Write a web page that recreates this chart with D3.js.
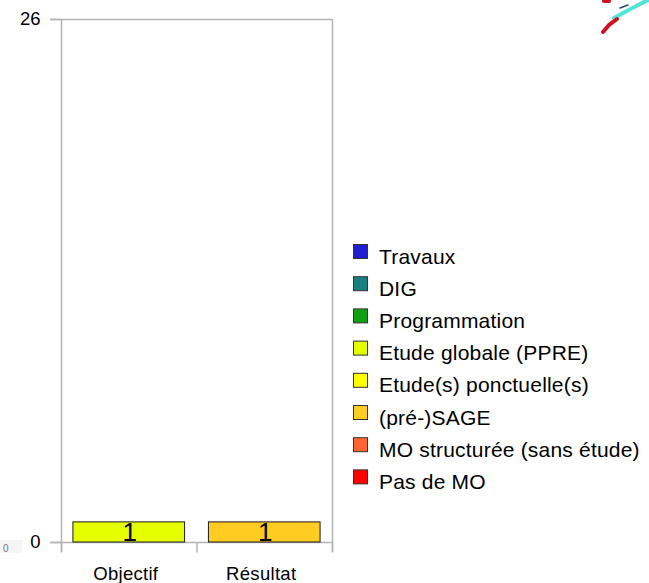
<!DOCTYPE html>
<html>
<head>
<meta charset="utf-8">
<script src="https://cdn.jsdelivr.net/npm/d3@7"></script>
<style>
  html, body { margin: 0; padding: 0; background: #fff; }
  svg { display: block; font-family: "Liberation Sans", Arial, sans-serif; }
</style>
</head>
<body>
<svg id="chart" width="649" height="583"></svg>
<script>
// Categories on the x axis
const categories = ["Objectif", "Résultat"];
// Stack series (bottom to top) and their colours
const seriesNames = ["Pas de MO", "MO structurée (sans étude)", "(pré-)SAGE", "Etude(s) ponctuelle(s)",
                     "Etude globale (PPRE)", "Programmation", "DIG", "Travaux"];
const seriesColors = ["#ff0000", "#ff6633", "#ffcc22", "#ffff00", "#e6ff00", "#10a010", "#1a7f7f", "#2020d0"];
// Values per series, one per category
const valPasDeMO      = [0, 0];
const valMOStructuree = [0, 0];
const valSAGE         = [0, 1];
const valPonctuelles  = [0, 0];
const valGlobale      = [1, 0];
const valProgrammation= [0, 0];
const valDIG          = [0, 0];
const valTravaux      = [0, 0];
// Y axis ticks
const yTicks = [0, 26];

const seriesValues = [valPasDeMO, valMOStructuree, valSAGE, valPonctuelles,
                      valGlobale, valProgrammation, valDIG, valTravaux];
const rows = categories.map((c, i) => {
  const r = { cat: c };
  seriesNames.forEach((s, k) => r[s] = seriesValues[k][i]);
  return r;
});
const stacked = d3.stack().keys(seriesNames)(rows);

const svg = d3.select("#chart");
const plotLeft = 61, plotRight = 332, plotTop = 19, plotBottom = 542;
const grid = "#b3b3b3";
const fontFam = "Liberation Sans, Arial, sans-serif";

const x = d3.scaleBand().domain(categories).range([plotLeft, plotRight])
  .paddingInner(0.176).paddingOuter(0.088);
const y = d3.scaleLinear().domain([0, 26]).range([plotBottom, plotTop]);

// frame: top and right lines
svg.append("line").attr("x1", 50).attr("x2", plotRight).attr("y1", plotTop + 0.5).attr("y2", plotTop + 0.5)
  .attr("stroke", grid).attr("stroke-width", 1.5);
svg.append("line").attr("x1", plotRight + 0.5).attr("x2", plotRight + 0.5).attr("y1", plotTop).attr("y2", plotBottom + 10)
  .attr("stroke", grid).attr("stroke-width", 1.5);

// y axis
const yAxis = svg.append("g").attr("transform", `translate(${plotLeft + 0.5},0)`)
  .call(d3.axisLeft(y).tickValues(yTicks).tickSize(11).tickPadding(10).tickFormat(d3.format("d")));
yAxis.attr("font-family", fontFam);
yAxis.select(".domain").attr("stroke", grid).attr("stroke-width", 1.5).attr("d", `M0,${plotTop}V${plotBottom + 10}`);
yAxis.selectAll(".tick line").attr("stroke", grid).attr("stroke-width", 1.5);
yAxis.selectAll(".tick text").attr("font-size", 18.5).attr("fill", "#000");

// x axis with ticks on category boundaries
const xAxis = svg.append("g").attr("transform", `translate(0,${plotBottom + 0.5})`);
xAxis.append("line").attr("x1", 50).attr("x2", plotRight).attr("stroke", grid).attr("stroke-width", 1.5);
const boundaries = [plotLeft, (x(categories[0]) + x.bandwidth() + x(categories[1])) / 2, plotRight];
xAxis.selectAll("line.tk").data(boundaries).join("line").attr("class", "tk")
  .attr("x1", d => d + 0.5).attr("x2", d => d + 0.5).attr("y1", 0).attr("y2", 10)
  .attr("stroke", grid).attr("stroke-width", 1.5);
xAxis.selectAll("text").data(categories).join("text")
  .attr("x", d => x(d) + x.bandwidth() / 2 - 3).attr("y", 37)
  .attr("text-anchor", "middle").attr("font-size", 18.5).attr("letter-spacing", 0.3)
  .attr("fill", "#000").text(d => d);

// stacked bars
const layers = svg.append("g").selectAll("g").data(stacked).join("g")
  .attr("fill", (d, i) => seriesColors[i]);
layers.selectAll("rect").data(d => d.filter(p => p[1] - p[0] > 0)).join("rect")
  .attr("x", d => x(d.data.cat))
  .attr("y", d => y(d[1]))
  .attr("width", x.bandwidth())
  .attr("height", d => y(d[0]) - y(d[1]))
  .attr("stroke", "#1a1a1a").attr("stroke-width", 1);

// value labels inside segments
layers.selectAll("text").data(d => d.filter(p => p[1] - p[0] > 0)).join("text")
  .attr("x", d => x(d.data.cat) + x.bandwidth() / 2 + 1)
  .attr("y", d => y(d[0]) - 1)
  .attr("text-anchor", "middle").attr("font-size", 26).attr("fill", "#000")
  .text(d => d[1] - d[0]);

// legend, top entry first
const legendItems = seriesNames.map((n, i) => ({ name: n, color: seriesColors[i] })).reverse();
const lg = svg.append("g").attr("transform", "translate(353,244)");
const li = lg.selectAll("g").data(legendItems).join("g")
  .attr("transform", (d, i) => `translate(0,${i * 32.2})`);
li.append("rect").attr("x", 0.5).attr("y", 0.5).attr("width", 14).attr("height", 14)
  .attr("fill", d => d.color).attr("stroke", "#333").attr("stroke-width", 1);
li.append("text").attr("x", 26).attr("y", 19.5).attr("font-size", 21).attr("letter-spacing", 0.2)
  .attr("fill", "#000").text(d => d.name);

// small emblem in the top-right corner
const logo = svg.append("g").attr("fill", "none").attr("stroke-linecap", "round");
logo.append("path").attr("d", "M614,18 Q630,9 648,0").attr("stroke", "#30e0d0").attr("stroke-width", 4).attr("opacity", 0.85);
logo.append("path").attr("d", "M603,32 L609,25 L617,19").attr("stroke", "#d01020").attr("stroke-width", 4);
logo.append("path").attr("d", "M604,1 L609,1").attr("stroke", "#d01020").attr("stroke-width", 4);
logo.append("path").attr("d", "M620,8 L628,5").attr("stroke", "#205060").attr("stroke-width", 1.5);

// faint leftover mark on the left edge
svg.append("rect").attr("x", 0).attr("y", 540).attr("width", 22).attr("height", 13).attr("fill", "#f5f5f5");
svg.append("text").attr("x", 3).attr("y", 552).attr("font-size", 10).attr("fill", "#777").text("0");
</script>
</body>
</html>
